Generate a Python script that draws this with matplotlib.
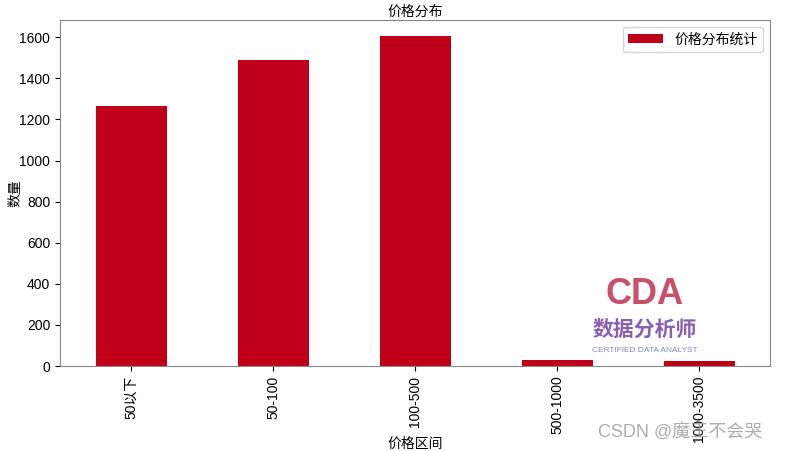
import matplotlib
matplotlib.use("Agg")
import matplotlib.pyplot as plt

plt.rcParams['font.family'] = ['Liberation Sans', 'Noto Sans CJK SC', 'DejaVu Sans']

categories = ['50以下', '50-100', '100-500', '500-1000', '1000-3500']
counts = [1264, 1488, 1604, 29, 24]
series_name = '价格分布统计'

fig = plt.figure(figsize=(7.93, 4.51), dpi=100)
ax = fig.add_axes([60/793, 1-366/451, 710/793, 346/451])
x = list(range(len(categories)))
ax.bar(x, counts, width=0.5, color='#c00018', label=series_name)
ax.set_xlim(-0.5, len(categories) - 0.5)
ax.set_ylim(0, max(counts) * 1.05)
ax.set_xticks(x)
ax.set_xticklabels(categories, rotation=90, fontsize=10)
ax.tick_params(axis='y', labelsize=10)
for s in ax.spines.values():
    s.set_color('#888888')
ax.set_title('价格分布', fontsize=10, pad=3)
ax.set_xlabel('价格区间', fontsize=10)
ax.set_ylabel('数量', fontsize=10)
ax.xaxis.set_label_coords(0.5, (366-437)/346)
ax.yaxis.set_label_coords((22-60)/710, 0.5)
ax.legend(loc='upper right', fontsize=10, handlelength=2.5, handleheight=0.6)

# watermark overlays
fig.text(645/793, 1-295/451, 'CDA', fontsize=26, fontweight='bold', color='#c8506a',
         ha='center', va='center')
fig.text(645/793, 1-330/451, '数据分析师', fontsize=15, fontweight='bold', color='#8a5fb0',
         ha='center', va='center')
fig.text(645/793, 1-350/451, 'CERTIFIED DATA ANALYST', fontsize=6, color='#7a8fb8',
         ha='center', va='center')
fig.text(680/793, 1-432/451, 'CSDN @魔王不会哭', fontsize=13, color='#999999',
         ha='center', va='center', alpha=0.8)

fig.savefig('out.png', dpi=100)
